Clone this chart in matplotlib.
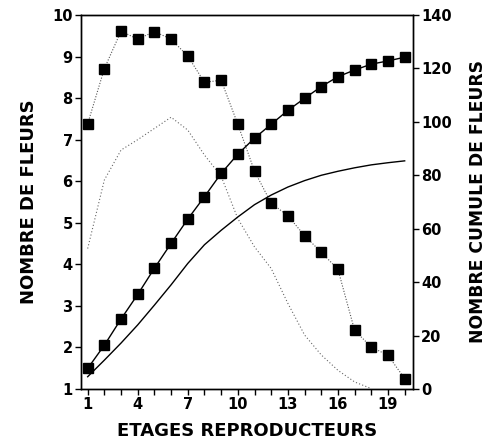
import matplotlib
matplotlib.use("Agg")
import matplotlib.pyplot as plt

plt.rcParams['font.family'] = ['DejaVu Sans']
plt.rcParams['font.weight'] = 'bold'

etages = list(range(1, 21))

# nombre de fleurs par etage (observe)
fleurs = [7.38, 8.71, 9.61, 9.42, 9.6, 9.42, 9.01, 8.38, 8.43, 7.37,
          6.24, 5.47, 5.17, 4.69, 4.29, 3.88, 2.41, 2.01, 1.81, 1.25]
# nombre de fleurs par etage (courbe ajustee)
fleurs_ajust = [4.38, 6.03, 6.75, 7.0, 7.27, 7.54, 7.23, 6.63, 6.12, 5.1,
                4.42, 3.9, 3.06, 2.3, 1.82, 1.45, 1.17, 1.01]
# nombre cumule observe
cumul = [7.7, 16.4, 26.2, 35.4, 45.2, 54.5, 63.6, 72.0, 80.7, 87.9,
         93.9, 99.1, 104.3, 108.8, 113.2, 116.9, 119.4, 121.6, 122.8, 124.2]
# nombre cumule ajuste
cumul_ajust = [4.6, 10.8, 17.2, 24.0, 31.4, 39.0, 47.0, 54.0, 59.4, 64.4,
               69.0, 72.6, 75.6, 78.0, 80.0, 81.5, 82.8, 83.9, 84.7, 85.4]

fig = plt.figure(figsize=(4.96, 4.42), dpi=100)
ax = fig.add_axes([0.1633, 0.1199, 0.6694, 0.8462])
ax2 = ax.twinx()

ax.plot(etages, fleurs, ls=(0, (1, 1.5)), color="#555555", lw=0.8,
        marker="s", ms=6.5, mfc="black", mec="black")
ax.plot(etages[:len(fleurs_ajust)], fleurs_ajust, ls=(0, (1, 2)),
        color="#666666", lw=0.8)
ax2.plot(etages, cumul, "-", color="black", lw=1.0,
         marker="s", ms=6.5, mfc="black", mec="black")
ax2.plot(etages, cumul_ajust, "-", color="black", lw=1.0)

ax.set_xlim(0.6, 20.5)
ax.set_ylim(1, 10)
ax2.set_ylim(0, 140)

ax.set_xticks(range(1, 20, 3))
ax.set_xticks(etages, minor=True)
ax.set_yticks(range(1, 11))
ax2.set_yticks(range(0, 141, 20))

for a in (ax, ax2):
    a.tick_params(which="both", direction="out", length=4, width=1,
                  labelsize=10.5, pad=2)
    for s in a.spines.values():
        s.set_linewidth(1.0)

ax.set_xlabel("ETAGES REPRODUCTEURS", fontsize=13, fontweight="bold",
              labelpad=7)
ax.set_ylabel("NOMBRE DE FLEURS", fontsize=13, fontweight="bold",
              labelpad=10)
ax2.set_ylabel("NOMBRE CUMULE DE FLEURS", fontsize=12.3, fontweight="bold",
               labelpad=12)

fig.savefig("out.png", dpi=100)
